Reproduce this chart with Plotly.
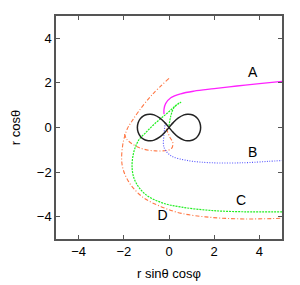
import plotly.graph_objects as go

# Figure-eight (black)
eight_x = [0, 0.187, 0.4, 0.66, 0.81, 0.97, 1.128, 1.267, 1.365, 1.4, 1.365, 1.267, 1.128, 0.97, 0.81, 0.66, 0.4, 0.187,
           0, -0.187, -0.4, -0.66, -0.81, -0.97, -1.128, -1.267, -1.365, -1.4, -1.365, -1.267, -1.128, -0.97, -0.81, -0.66, -0.4, -0.187, 0]
eight_y = [0, 0.219, 0.419, 0.565, 0.597, 0.587, 0.522, 0.397, 0.215, 0, -0.215, -0.397, -0.522, -0.587, -0.597, -0.565, -0.419, -0.219,
           0, 0.219, 0.419, 0.565, 0.597, 0.587, 0.522, 0.397, 0.215, 0, -0.215, -0.397, -0.522, -0.587, -0.597, -0.565, -0.419, -0.219, 0]

# Curve A (magenta)
a_x = [-0.22, -0.22, -0.15, 0.08, 0.52, 1.11, 2.0, 3.0, 4.0, 5.0]
a_y = [0.6, 0.82, 1.07, 1.33, 1.51, 1.63, 1.74, 1.86, 1.97, 2.07]

# Curve B (blue)
b_x = [-0.18, -0.22, -0.22, 0.08, 0.82, 1.85, 3.33, 4.37, 5.0]
b_y = [0.1, -0.29, -0.89, -1.26, -1.48, -1.58, -1.58, -1.52, -1.48]

# Curve C (green)
c_x = [0.0, 0.08, 0.22, 0.44, 0.52, 0.42, 0.3, -0.07, -0.6, -1.04, -1.33, -1.56, -1.63, -1.48, -1.04, -0.3, 0.55, 1.85, 3.33, 5.0]
c_y = [0.05, 0.52, 0.89, 1.08, 1.13, 1.08, 0.99, 0.65, 0.2, -0.24, -0.55, -1.11, -1.85, -2.44, -3.0, -3.38, -3.57, -3.72, -3.78, -3.78]

# Curve D (orange), outer and inner parts
d1_x = [0.0, -0.74, -1.33, -1.63, -1.85, -2.05, -2.07, -1.78, -1.18, -0.35, 0.55, 1.85, 3.33, 5.0]
d1_y = [2.2, 1.48, 0.74, 0.3, -0.07, -0.8, -1.7, -2.44, -3.11, -3.55, -3.85, -4.03, -4.1, -4.07]
d2_x = [-0.12, 0.03, 0.17, 0.1, -0.59, -1.33, -1.85, -1.97]
d2_y = [-0.05, -0.42, -0.68, -0.95, -1.05, -0.9, -0.55, -0.3]

labels = ["A", "B", "C", "D"]
label_x = [3.7, 3.7, 3.19, -0.29]
label_y = [2.4, -1.16, -3.33, -4.0]

ticks = [-4, -2, 0, 2, 4]

FONT = "Liberation Sans, Arial, sans-serif"

fig = go.Figure()
fig.add_trace(go.Scatter(x=d1_x, y=d1_y, mode="lines", line=dict(color="#ff7744", width=1.1, dash="4px,2px,1px,2px", shape="spline")))
fig.add_trace(go.Scatter(x=d2_x, y=d2_y, mode="lines", line=dict(color="#ff7744", width=1.1, dash="4px,2px,1px,2px", shape="spline")))
fig.add_trace(go.Scatter(x=c_x, y=c_y, mode="lines", line=dict(color="#22ee22", width=1.2, dash="2px,1px", shape="spline")))
fig.add_trace(go.Scatter(x=b_x, y=b_y, mode="lines", line=dict(color="#5555ff", width=1.1, dash="1px,1.5px", shape="spline")))
fig.add_trace(go.Scatter(x=a_x, y=a_y, mode="lines", line=dict(color="#ff22ff", width=1.3, shape="spline")))
fig.add_trace(go.Scatter(x=eight_x, y=eight_y, mode="lines", line=dict(color="#222222", width=1.5, shape="spline")))
fig.add_trace(go.Scatter(x=label_x, y=label_y, mode="text", text=labels,
                         textfont=dict(family=FONT, size=14, color="#000")))

axis_common = dict(range=[-5, 5], tickvals=ticks, ticks="inside", ticklen=4, tickcolor="#555",
                   showline=True, linecolor="#555", linewidth=1.5, mirror="ticks", showgrid=False, zeroline=False,
                   tickfont=dict(family=FONT, size=13, color="#000"))
fig.update_layout(
    width=300, height=285,
    margin=dict(l=47, r=26, t=6, b=54),
    paper_bgcolor="white", plot_bgcolor="white",
    showlegend=False,
    xaxis=dict(**axis_common, title=dict(text="r sinθ cosφ", standoff=11,
                                         font=dict(family=FONT, size=13, color="#000"))),
    yaxis=dict(**axis_common, title=dict(text="r cosθ", standoff=14,
                                         font=dict(family=FONT, size=13, color="#000"))),
)
fig.write_html("out.html")
